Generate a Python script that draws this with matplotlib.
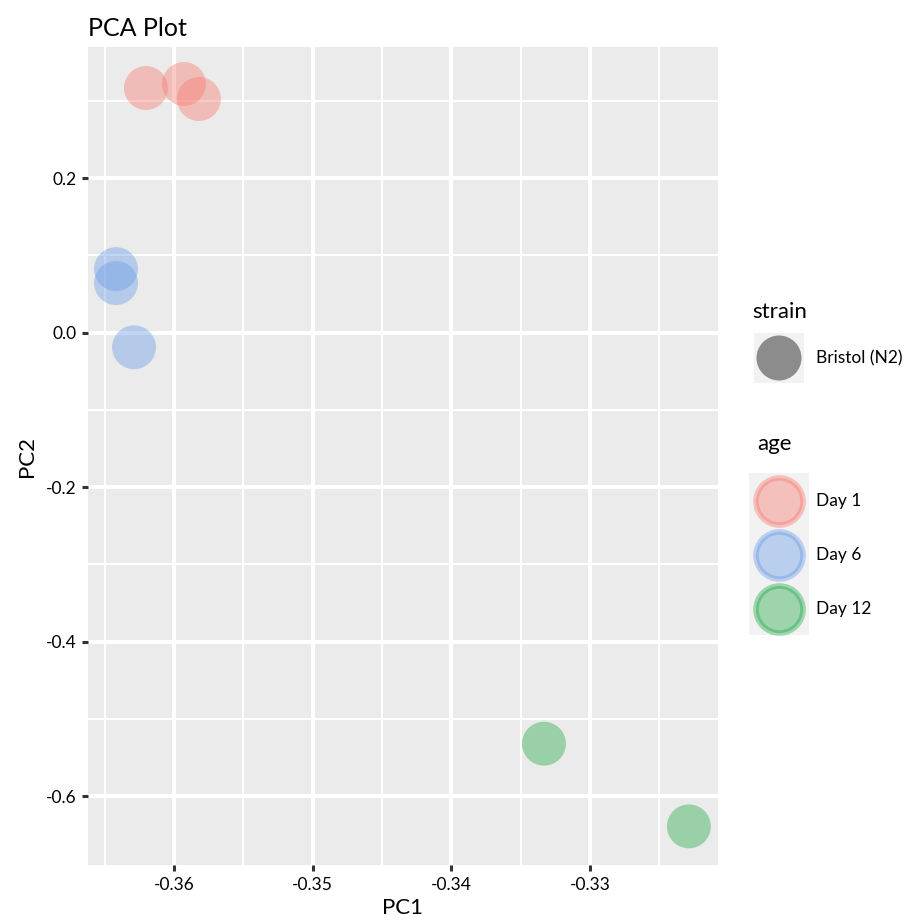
import numpy as np
import matplotlib.pyplot as plt
from matplotlib.ticker import FixedLocator
from matplotlib.patches import Rectangle

plt.rcParams['font.family'] = ['Lato', 'DejaVu Sans']

# data
age_levels = ['Day 1', 'Day 6', 'Day 12']
age_colors = ['#F8766D', '#6699E6', '#1FA845']
pc1_day1 = [-0.36202, -0.35928, -0.35820]
pc2_day1 = [0.3165, 0.3217, 0.3023]
pc1_day6 = [-0.36418, -0.36418, -0.36288]
pc2_day6 = [0.0822, 0.0641, -0.0190]
pc1_day12 = [-0.33332, -0.32287]
pc2_day12 = [-0.532, -0.639]
strain_levels = ['Bristol (N2)']

pc1 = [pc1_day1, pc1_day6, pc1_day12]
pc2 = [pc2_day1, pc2_day6, pc2_day12]

xticks = [-0.36, -0.35, -0.34, -0.33]
yticks = [0.2, 0.0, -0.2, -0.4, -0.6]

W, H = 918, 922
fig = plt.figure(figsize=(W / 100, H / 100), dpi=100)
ax = fig.add_axes([88 / W, 1 - 865 / H, (718 - 88) / W, (865 - 47) / H])
ax.set_facecolor('#EBEBEB')
for s in ax.spines.values():
    s.set_visible(False)

for xs, ys, c in zip(pc1, pc2, age_colors):
    ax.scatter(xs, ys, s=1000, color=c, alpha=0.4, edgecolors='none', zorder=3)

ax.set_xlim(-0.3662, -0.32077)
ax.set_ylim(-0.689, 0.3696)
ax.xaxis.set_major_locator(FixedLocator(xticks))
ax.yaxis.set_major_locator(FixedLocator(yticks))
ax.xaxis.set_minor_locator(FixedLocator([t + 0.005 for t in [-0.37] + xticks]))
ax.yaxis.set_minor_locator(FixedLocator([t + 0.1 for t in yticks + [-0.8]]))
ax.set_xticklabels(['%.2f' % t for t in xticks])
ax.set_yticklabels(['%.1f' % t for t in yticks])
ax.grid(which='major', color='white', linewidth=2.9, zorder=0)
ax.grid(which='minor', color='white', linewidth=1.45, zorder=0)
ax.set_axisbelow(True)
ax.tick_params(which='major', length=4.5, width=2.2, color='#333333',
               labelsize=12.5, labelcolor='black', pad=4)
ax.tick_params(which='minor', length=0)
ax.set_xlabel('PC1', fontsize=16, labelpad=4)
ax.set_ylabel('PC2', fontsize=16, labelpad=6)
ax.set_title('PCA Plot', fontsize=18, loc='left', pad=8)

# legends drawn in pixel coordinates
lg = fig.add_axes([0, 0, 1, 1])
lg.set_xlim(0, W)
lg.set_ylim(H, 0)
lg.axis('off')

lg.text(752, 312, 'strain', fontsize=16, va='center', ha='left')
lg.add_patch(Rectangle((754, 333), 50, 50, color='#F2F2F2', lw=0))
for i, lab in enumerate(strain_levels):
    lg.scatter([779], [358 + i * 54], s=1050, color='#8C8C8C', edgecolors='none')
    lg.text(816, 358 + i * 54, lab, fontsize=12.5, va='center', ha='left')

lg.text(757, 444, 'age', fontsize=16, va='center', ha='left')
lg.add_patch(Rectangle((749, 473), 60, 162, color='#F2F2F2', lw=0))
for i, (lab, c) in enumerate(zip(age_levels, age_colors)):
    y = 501 + i * 54
    lg.scatter([779], [y], s=1150, color=c, alpha=0.4, edgecolors=c,
               linewidths=4)
    lg.text(816, y, lab, fontsize=12.5, va='center', ha='left')

fig.savefig('out.png', dpi=100)
